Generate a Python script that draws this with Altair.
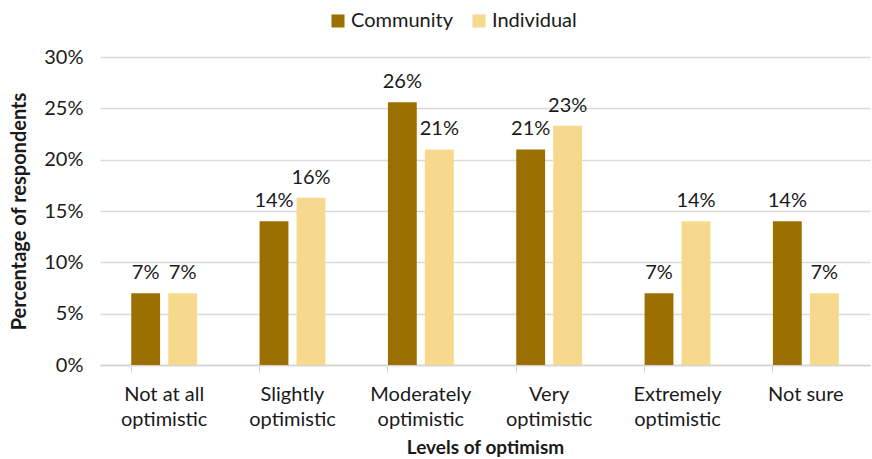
import altair as alt
import pandas as pd

categories = ["Not at all optimistic", "Slightly optimistic", "Moderately optimistic",
              "Very optimistic", "Extremely optimistic", "Not sure"]
community = [7.0, 14.0, 25.6, 21.0, 7.0, 14.0]
individual = [7.0, 16.3, 21.0, 23.3, 14.0, 7.0]
series = ["Community", "Individual"]
colors = ["#9C7000", "#F7D98D"]

rows = []
for c, a, b in zip(categories, community, individual):
    rows.append({"level": c, "group": "Community", "value": a / 100})
    rows.append({"level": c, "group": "Individual", "value": b / 100})
df = pd.DataFrame(rows)

FONT = "Lato"
TXT = "#1a1a1a"
FS = 20

label_expr = ("indexof(datum.value, ' optimistic') >= 0 ? "
              "[replace(datum.value, ' optimistic', ''), 'optimistic'] : datum.value")

x = alt.X("level:N", sort=categories,
          scale=alt.Scale(paddingInner=0.487, paddingOuter=0.2435),
          axis=alt.Axis(title="Levels of optimism", labelAngle=0, labelExpr=label_expr,
                        bandPosition=0, ticks=True, tickSize=7, tickColor="#d4d4d4",
                        domainColor="#d4d4d4", domainWidth=1.5, labelPadding=12,
                        labelFontSize=FS, labelLineHeight=25, titleFontSize=19,
                        titlePadding=9, grid=False, labelColor=TXT, titleColor=TXT,
                        labelOverlap=False))

y = alt.Y("value:Q", scale=alt.Scale(domain=[0, 0.30]),
          axis=alt.Axis(title="Percentage of respondents", format=".0%",
                        values=[0, 0.05, 0.10, 0.15, 0.20, 0.25, 0.30],
                        domain=False, ticks=False, labelPadding=17, labelFontSize=FS,
                        titleFontSize=20, titlePadding=14, gridColor="#d9d9d9",
                        gridWidth=1.5, labelColor=TXT, titleColor=TXT,
                        labelOverlap=False))

base = alt.Chart(df).encode(
    x=x,
    xOffset=alt.XOffset("group:N", sort=series,
                        scale=alt.Scale(paddingInner=0.22, paddingOuter=0)),
    y=y,
)

bars = base.mark_bar().encode(
    color=alt.Color("group:N", sort=series,
                    scale=alt.Scale(domain=series, range=colors),
                    legend=alt.Legend(title=None, orient="none", direction="horizontal",
                                      legendX=228, legendY=-46,
                                      symbolType="square", symbolSize=170,
                                      labelFontSize=FS, labelColor=TXT,
                                      columnPadding=16, labelOffset=3))
)

labels = base.mark_text(dy=-20, fontSize=FS, color=TXT, font=FONT).encode(
    text=alt.Text("value:Q", format=".0%")
)

chart = (bars + labels).properties(
    width=770, height=308,
    autosize=alt.AutoSizeParams(type="none"),
    padding={"left": 100, "top": 57, "right": 2, "bottom": 94},
).configure(font=FONT).configure_view(stroke=None).configure_axis(
    titleFontWeight="bold", labelFont=FONT, titleFont=FONT
).configure_legend(labelFont=FONT)

chart.save("out.html", embed_options={"renderer": "svg", "actions": False})
